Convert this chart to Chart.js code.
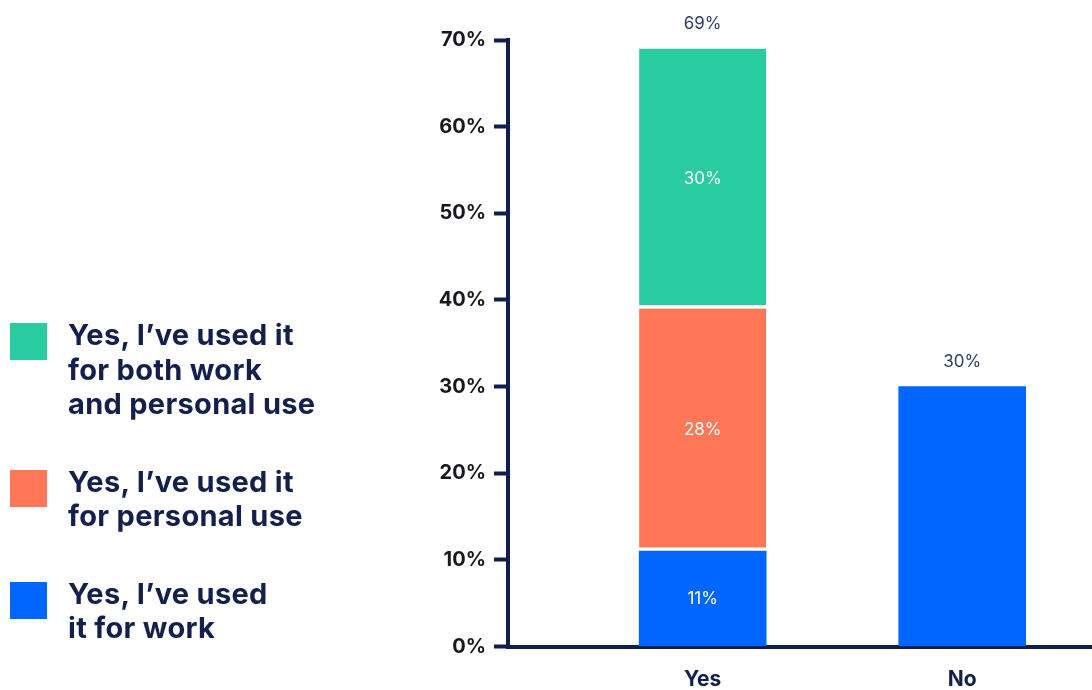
<!DOCTYPE html>
<html>
<head>
<meta charset="utf-8">
<script src="https://cdn.jsdelivr.net/npm/chart.js@4"></script>
<style>
  html, body { margin: 0; padding: 0; background: #fff; }
  #wrap { position: relative; width: 1092px; height: 690px; }
  #wrap canvas { position: absolute; left: 0; top: 0; }
  #legend {
    position: absolute; left: 10px; top: 318px;
    font-family: Inter, "Noto Sans", sans-serif; font-weight: 700;
    font-size: 29px; line-height: 34.5px; color: #13204d;
  }
  .item { display: flex; align-items: flex-start; margin-bottom: 43px; }
  .swatch { width: 37px; height: 37px; margin-top: 5px; flex: none; }
  .label { margin-left: 21px; white-space: pre-line; letter-spacing: 0.3px; }
</style>
</head>
<body>
<div id="wrap">
  <canvas id="myChart" width="1092" height="690"></canvas>
  <div id="legend"></div>
</div>
<script>
// answers, bottom segment first
const categories = ["Yes", "No"];
const seriesNames = [
  "Yes, I’ve used\nit for work",
  "Yes, I’ve used it\nfor personal use",
  "Yes, I’ve used it\nfor both work\nand personal use"
];
const workValues = [11, 30];
const personalValues = [28, null];
const bothValues = [30, null];
const yTicks = [0, 10, 20, 30, 40, 50, 60, 70];

const colors = ["#0066ff", "#ff7757", "#29cca0"];
const navy = "#0f1d4f";
const series = [workValues, personalValues, bothValues];

// a segment that sits on another one gets a white strip along its bottom
function hasBelow(ds, i) {
  for (let k = 0; k < ds; k++) if (series[k][i] != null) return true;
  return false;
}

const datasets = series.map((vals, d) => ({
  label: seriesNames[d],
  data: vals.map((v, i) => ({ x: i, y: v })).filter(p => p.y != null),
  backgroundColor: colors[d],
  borderColor: "#fff",
  borderSkipped: false,
  borderWidth: ctx => ({ top: 0, left: 0, right: 0, bottom: hasBelow(d, ctx.raw ? ctx.raw.x : 0) ? 4 : 0 }),
  barThickness: 127
}));

const valueLabels = {
  id: "valueLabels",
  afterDatasetsDraw(chart) {
    const ctx = chart.ctx;
    ctx.save();
    ctx.textAlign = "center";
    ctx.textBaseline = "middle";
    categories.forEach((c, i) => {
      let segs = [];
      chart.data.datasets.forEach((ds, d) => {
        const meta = chart.getDatasetMeta(d);
        ds.data.forEach((p, j) => {
          if (p.x === i) segs.push({ v: p.y, el: meta.data[j] });
        });
      });
      if (!segs.length) return;
      ctx.font = "17px Inter, sans-serif";
      if (segs.length > 1) {
        ctx.fillStyle = "#ffffff";
        segs.forEach(s => ctx.fillText(s.v + "%", s.el.x, (s.el.y + s.el.base) / 2));
      }
      const total = segs.reduce((a, s) => a + s.v, 0);
      const top = Math.min(...segs.map(s => s.el.y));
      ctx.fillStyle = "#2e3d6b";
      ctx.fillText(total + "%", segs[0].el.x, top - 25);
    });
    ctx.restore();
  }
};

new Chart(document.getElementById("myChart"), {
  type: "bar",
  data: { datasets: datasets },
  plugins: [valueLabels],
  options: {
    responsive: false,
    animation: false,
    layout: { padding: { top: 40, right: 0, bottom: 0, left: 0 } },
    plugins: { legend: { display: false }, tooltip: { enabled: false } },
    scales: {
      x: {
        type: "linear",
        stacked: true,
        offset: false,
        min: -0.75,
        max: 1.5,
        afterBuildTicks: s => { s.ticks = categories.map((c, i) => ({ value: i })); },
        afterFit: s => { s.height = 43.5; },
        grid: { display: false, drawTicks: false },
        border: { display: true, color: navy, width: 4 },
        ticks: {
          padding: 21,
          color: "#13204d",
          font: { family: "Inter", size: 21, weight: "bold" },
          callback: v => categories[v]
        }
      },
      y: {
        stacked: true,
        min: 0,
        max: 70,
        afterBuildTicks: s => { s.ticks = yTicks.map(v => ({ value: v })); },
        afterFit: s => { s.width = 508; },
        grid: { drawOnChartArea: false, drawTicks: true, tickLength: 14, tickWidth: 4, tickColor: navy },
        border: { display: true, color: navy, width: 4 },
        ticks: {
          padding: 8,
          color: "#16181d",
          font: { family: "Inter", size: 20, weight: "bold" },
          callback: v => v + "%"
        }
      }
    }
  }
});

// legend, top entry is the top segment
const legend = document.getElementById("legend");
for (let d = series.length - 1; d >= 0; d--) {
  const item = document.createElement("div");
  item.className = "item";
  item.innerHTML = '<div class="swatch" style="background:' + colors[d] + '"></div>';
  const lbl = document.createElement("div");
  lbl.className = "label";
  lbl.textContent = seriesNames[d];
  item.appendChild(lbl);
  legend.appendChild(item);
}
</script>
</body>
</html>
